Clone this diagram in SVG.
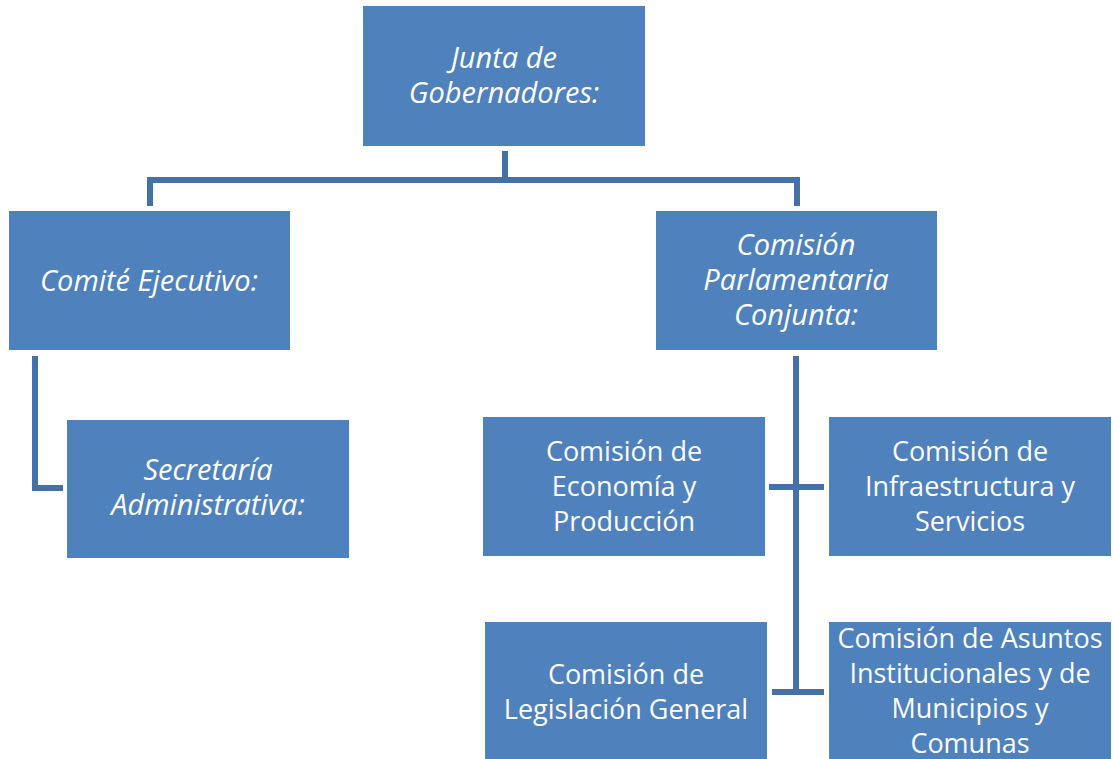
<svg xmlns="http://www.w3.org/2000/svg" width="1113" height="759" viewBox="0 0 1113 759">
<style>
.box{fill:#4F81BD}
.t{fill:#fff;font-family:"Open Sans","Liberation Sans",sans-serif;font-size:27px;text-anchor:middle}
.i{font-style:italic;font-size:29px}
.c{stroke:#4471A8;stroke-width:6;fill:none}
</style>
<rect width="1113" height="759" fill="#fff"/>
<g id="connectors">
<path class="c" d="M505 151V180M150 206V180H797V206"/>
<path class="c" d="M35 356V488H63"/>
<path class="c" d="M796 356V692M769 487H824M772 692H824"/>
</g>
<g id="junta"><rect class="box" x="363" y="6" width="282" height="140"/>
<text class="t i" x="504" y="68">Junta de</text><text class="t i" x="504" y="103">Gobernadores:</text></g>
<g id="comite"><rect class="box" x="9" y="211" width="281" height="139"/>
<text class="t i" x="149" y="291">Comité Ejecutivo:</text></g>
<g id="parlamentaria"><rect class="box" x="656" y="211" width="281" height="139"/>
<text class="t i" x="796" y="255">Comisión</text><text class="t i" x="796" y="290">Parlamentaria</text><text class="t i" x="796" y="325">Conjunta:</text></g>
<g id="secretaria"><rect class="box" x="67" y="420" width="282" height="138"/>
<text class="t i" x="208" y="480">Secretaría</text><text class="t i" x="208" y="515">Administrativa:</text></g>
<g id="economia"><rect class="box" x="483" y="417" width="282" height="139"/>
<text class="t" x="624" y="461">Comisión de</text><text class="t" x="624" y="496">Economía y</text><text class="t" x="624" y="531">Producción</text></g>
<g id="infraestructura"><rect class="box" x="829" y="417" width="282" height="139"/>
<text class="t" x="970" y="461">Comisión de</text><text class="t" x="970" y="496">Infraestructura y</text><text class="t" x="970" y="531">Servicios</text></g>
<g id="legislacion"><rect class="box" x="485" y="622" width="282" height="137"/>
<text class="t" x="626" y="684">Comisión de</text><text class="t" x="626" y="719">Legislación General</text></g>
<g id="asuntos"><rect class="box" x="829" y="622" width="282" height="137"/>
<text class="t" x="970" y="648">Comisión de Asuntos</text><text class="t" x="970" y="683">Institucionales y de</text><text class="t" x="970" y="718">Municipios y</text><text class="t" x="970" y="753">Comunas</text></g>
</svg>
